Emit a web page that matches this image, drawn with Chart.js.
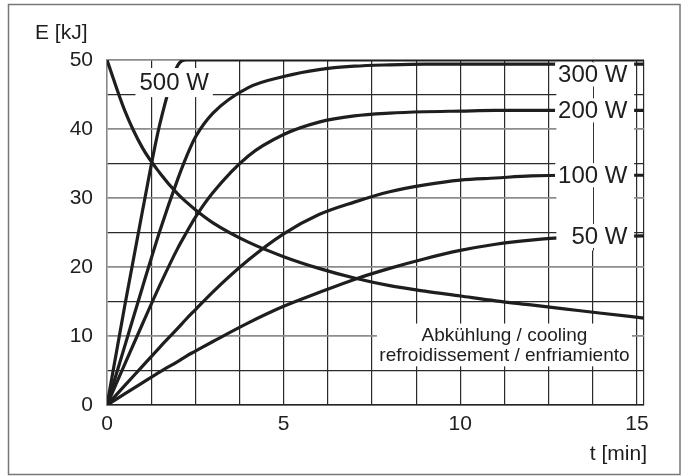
<!DOCTYPE html>
<html>
<head>
<meta charset="utf-8">
<script src="https://cdn.jsdelivr.net/npm/chart.js@4.4.1/dist/chart.umd.min.js"></script>
<style>
  html, body { margin: 0; padding: 0; background: #fff; }
  canvas { display: block; }
</style>
</head>
<body>
<canvas id="energyChart" width="688" height="476"></canvas>
<script>
// time axis samples (min) shared by all curves
const tMin = [0, 0.5, 1, 1.5, 2, 2.25, 2.5, 3, 4, 5, 6, 7, 8, 9, 10, 11, 12, 13, 14, 15.2];

// energy in kJ
const heat500 = [0, 14.3, 28, 40.8, 49.2, 50, 50, 50, 50, 50, 50, 50, 50, 50, 50, 50, 50, 50, 50, 50];
const heat300 = [0, 8.5, 17, 25.3, 32.7, 36.0, 38.8, 42.3, 46, 47.6, 48.6, 49.1, 49.3, 49.4, 49.4, 49.4, 49.4, 49.4, 49.4, 49.4];
const heat200 = [0, 5.9, 11.7, 17.4, 22.7, 25.0, 27.2, 30.8, 36.1, 39.2, 41.0, 41.9, 42.3, 42.5, 42.6, 42.7, 42.7, 42.7, 42.7, 42.7];
const heat100 = [0, 2.8, 5.6, 8.4, 11.1, 12.5, 13.8, 16.4, 21.0, 24.8, 27.6, 29.4, 30.9, 31.9, 32.6, 32.9, 33.2, 33.3, 33.3, 33.3];
const heat50 = [0, 1.6, 3.2, 4.8, 6.3, 7.1, 7.8, 9.2, 11.9, 14.3, 16.3, 18.2, 19.8, 21.2, 22.4, 23.3, 23.9, 24.3, 24.4, 24.5];
const cooling = [50, 42.7, 37.3, 33.6, 30.6, 29.4, 28.3, 26.4, 23.6, 21.5, 19.8, 18.4, 17.3, 16.5, 15.8, 15.1, 14.5, 13.9, 13.3, 12.6];

const seriesNames = ['500 W', '300 W', '200 W', '100 W', '50 W'];
const coolingText = ['Abkühlung / cooling', 'refroidissement / enfriamiento'];

// ticks
const xGridTicks = [0, 1.25, 2.5, 3.75, 5, 6.25, 7.5, 8.75, 10, 11.25, 12.5, 13.75, 15, 15.2];
const xLabelTicks = [0, 5, 10, 15];
const yLabelTicks = [0, 10, 20, 30, 40, 50];

const FONT = '"Liberation Sans", Arial, Helvetica, sans-serif';
const INK = '#1e1e1e';

function toPoints(values) {
    return tMin.map((t, i) => ({ x: t, y: values[i] }));
}

function curve(label, values) {
    return {
        label: label,
        data: toPoints(values),
        borderColor: INK,
        borderWidth: 3.2,
        pointRadius: 0,
        fill: false,
        cubicInterpolationMode: 'monotone'
    };
}

// labels, white boxes, frame and axis titles
const overlay = {
    id: 'overlay',
    beforeDraw(chart) {
        const ctx = chart.ctx;
        ctx.save();
        ctx.fillStyle = '#fff';
        ctx.fillRect(0, 0, chart.width, chart.height);
        ctx.restore();
    },
    afterDatasetsDraw(chart) {
        const { ctx, scales: { x, y } } = chart;
        ctx.save();

        // blank column behind the power labels
        const colL = x.getPixelForValue(12.72), colR = x.getPixelForValue(14.92);
        const colT = y.getPixelForValue(49.7), colB = y.getPixelForValue(22.4);
        ctx.fillStyle = '#fff';
        ctx.fillRect(colL, colT, colR - colL, colB - colT);

        const gx = Math.round(x.getPixelForValue(13.75)) + 0.5;
        ctx.strokeStyle = '#333';
        ctx.lineWidth = 1;
        ctx.beginPath();
        ctx.moveTo(gx, colT);
        ctx.lineTo(gx, colB);
        ctx.stroke();

        ctx.font = '24px ' + FONT;
        ctx.textBaseline = 'middle';

        // 500 W label near the top
        ctx.textAlign = 'center';
        let lx = x.getPixelForValue(1.9), ly = y.getPixelForValue(46.8);
        let w = ctx.measureText(seriesNames[0]).width;
        ctx.fillStyle = '#fff';
        ctx.fillRect(lx - w / 2 - 4, ly - 14, w + 8, 29);
        ctx.fillStyle = INK;
        ctx.fillText(seriesNames[0], lx, ly + 1);

        // right hand labels, placed at the curve ends
        const ends = [47.9, heat200[heat200.length - 1], heat100[heat100.length - 1], heat50[heat50.length - 1]];
        ctx.textAlign = 'right';
        seriesNames.slice(1).forEach((name, i) => {
            const tx = x.getPixelForValue(14.73);
            const ty = y.getPixelForValue(ends[i]);
            const tw = ctx.measureText(name).width;
            ctx.fillStyle = '#fff';
            ctx.fillRect(tx - tw - 3, ty - 12, tw + 6, 24);
            ctx.fillStyle = INK;
            ctx.fillText(name, tx, ty + 1);
        });

        // cooling note
        const bl = x.getPixelForValue(7.64), br = x.getPixelForValue(14.86);
        const bt = y.getPixelForValue(11.8), bb = y.getPixelForValue(5.6);
        ctx.fillStyle = '#fff';
        ctx.fillRect(bl, bt, br - bl, bb - bt);
        ctx.font = '19px ' + FONT;
        ctx.textAlign = 'center';
        ctx.fillStyle = INK;
        const cx = x.getPixelForValue(11.25);
        ctx.fillText(coolingText[0], cx, y.getPixelForValue(10.05));
        ctx.fillText(coolingText[1], cx, y.getPixelForValue(7.15));

        ctx.restore();
    },
    afterDraw(chart) {
        const ctx = chart.ctx;
        ctx.save();
        ctx.strokeStyle = '#777';
        ctx.lineWidth = 1.5;
        ctx.strokeRect(8.5, 4.5, 671.5, 470);

        ctx.fillStyle = INK;
        ctx.font = '21px ' + FONT;
        ctx.textBaseline = 'alphabetic';
        ctx.textAlign = 'left';
        ctx.fillText('E [kJ]', 35, 38.5);
        ctx.textAlign = 'right';
        ctx.fillText('t [min]', 647, 460);
        ctx.restore();
    }
};

Chart.defaults.font.family = FONT;
Chart.defaults.color = INK;

new Chart(document.getElementById('energyChart'), {
    type: 'line',
    data: {
        datasets: [
            curve(seriesNames[0], heat500),
            curve(seriesNames[1], heat300),
            curve(seriesNames[2], heat200),
            curve(seriesNames[3], heat100),
            curve(seriesNames[4], heat50),
            curve('cooling', cooling)
        ]
    },
    options: {
        responsive: false,
        animation: false,
        layout: { padding: { left: 0, top: 60, right: 44, bottom: 0 } },
        plugins: {
            legend: { display: false },
            tooltip: { enabled: false }
        },
        scales: {
            x: {
                type: 'linear',
                min: 0,
                max: 15.2,
                afterBuildTicks: function (scale) {
                    scale.ticks = xGridTicks.map(v => ({ value: v }));
                },
                afterFit: function (scale) { scale.height = 71; },
                ticks: {
                    autoSkip: false,
                    maxRotation: 0,
                    padding: 7,
                    font: { size: 21 },
                    callback: function (value) {
                        return xLabelTicks.includes(value) ? String(value) : '';
                    }
                },
                grid: {
                    drawTicks: false,
                    color: c => c.tick && c.tick.value === 0 ? '#888' : '#2a2a2a',
                    lineWidth: 1.2
                },
                border: { color: '#222', width: 1.5 }
            },
            y: {
                min: 0,
                max: 50,
                afterFit: function (scale) { scale.width = 107; },
                ticks: {
                    stepSize: 5,
                    padding: 14,
                    font: { size: 21 },
                    callback: function (value) {
                        return yLabelTicks.includes(value) ? String(value) : '';
                    }
                },
                grid: {
                    drawTicks: false,
                    color: c => {
                        const v = c.tick ? c.tick.value : -1;
                        if (v === 0) return '#222';
                        return v % 10 === 0 ? '#8c8c8c' : '#2a2a2a';
                    },
                    lineWidth: c => (c.tick && c.tick.value % 10 === 0 && c.tick.value !== 0) ? 1.7 : 1.2
                },
                border: { color: '#888', width: 1.5 }
            }
        }
    },
    plugins: [overlay]
});
</script>
</body>
</html>
